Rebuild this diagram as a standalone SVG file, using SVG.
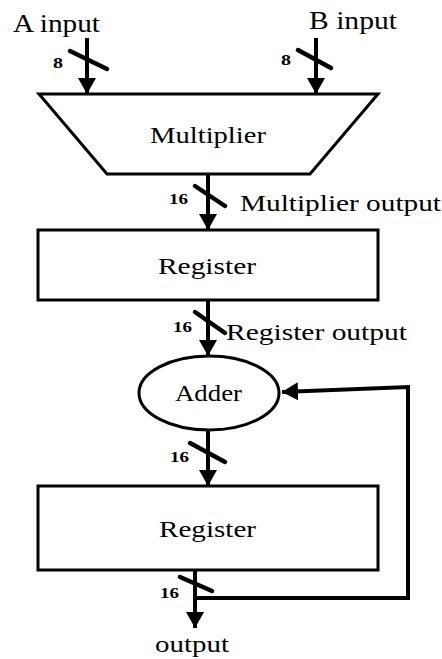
<svg xmlns="http://www.w3.org/2000/svg" width="442" height="659" viewBox="0 0 442 659">
<style>
.t{font-family:"Liberation Serif","Times New Roman",serif;font-size:24px;fill:#000}
.n{font-family:"Liberation Serif","Times New Roman",serif;font-size:15px;font-weight:bold;fill:#000}
.w{stroke:#000;stroke-width:4;fill:none}
.s{stroke:#000;stroke-width:4.5;stroke-linecap:round}
.b{fill:#fff;stroke:#000;stroke-width:3}
</style>
<defs>
<marker id="ah" viewBox="0 0 16 18" refX="16" refY="9" markerWidth="16" markerHeight="18" markerUnits="userSpaceOnUse" orient="auto">
<path d="M0,0 L16,9 L0,18 z" fill="#000"/>
</marker>
</defs>
<g id="connectors">
<line class="w" x1="87" y1="38" x2="87" y2="94" marker-end="url(#ah)"/>
<line class="w" x1="316" y1="38" x2="316" y2="94" marker-end="url(#ah)"/>
<line class="w" x1="208" y1="174" x2="208" y2="230" marker-end="url(#ah)"/>
<line class="w" x1="208" y1="300" x2="208" y2="356" marker-end="url(#ah)"/>
<line class="w" x1="208" y1="430" x2="208" y2="486" marker-end="url(#ah)"/>
<line class="w" x1="195" y1="570" x2="195" y2="628" marker-end="url(#ah)"/>
<polyline class="w" points="195,598 408,598 408,387 282,392" marker-end="url(#ah)"/>
<line class="s" x1="70" y1="51" x2="107" y2="69"/>
<line class="s" x1="298" y1="50" x2="331" y2="68"/>
<line class="s" x1="195" y1="186" x2="225" y2="206"/>
<line class="s" x1="195" y1="312" x2="225" y2="333"/>
<line class="s" x1="190" y1="443" x2="225" y2="462"/>
<line class="s" x1="180" y1="577" x2="212" y2="591"/>
<text class="n" x="53" y="68" textLength="10" lengthAdjust="spacingAndGlyphs">8</text>
<text class="n" x="281" y="65" textLength="10" lengthAdjust="spacingAndGlyphs">8</text>
<text class="n" x="169" y="204" textLength="19" lengthAdjust="spacingAndGlyphs">16</text>
<text class="n" x="173" y="332" textLength="19" lengthAdjust="spacingAndGlyphs">16</text>
<text class="n" x="170" y="462" textLength="19" lengthAdjust="spacingAndGlyphs">16</text>
<text class="n" x="160" y="598" textLength="19" lengthAdjust="spacingAndGlyphs">16</text>
<text class="t" x="240" y="211" textLength="201" lengthAdjust="spacingAndGlyphs">Multiplier output</text>
<text class="t" x="226" y="340" textLength="181" lengthAdjust="spacingAndGlyphs">Register output</text>
<text class="t" x="13" y="32" textLength="87" lengthAdjust="spacingAndGlyphs" style="font-size:25px">A input</text>
<text class="t" x="309" y="29" textLength="88" lengthAdjust="spacingAndGlyphs" style="font-size:25px">B input</text>
<text class="t" x="155" y="652" textLength="74" lengthAdjust="spacingAndGlyphs">output</text>
</g>
<g id="multiplier">
<polygon class="b" points="39,94 378,94 310,174 107,174" stroke-linejoin="miter"/>
<text class="t" x="150" y="143" textLength="116" lengthAdjust="spacingAndGlyphs" style="font-size:23px">Multiplier</text>
</g>
<g id="register1">
<rect class="b" x="38" y="230" width="340" height="70"/>
<text class="t" x="158" y="274" textLength="98" lengthAdjust="spacingAndGlyphs">Register</text>
</g>
<g id="adder">
<ellipse class="b" cx="209" cy="393" rx="70" ry="37"/>
<text class="t" x="175" y="401" textLength="67" lengthAdjust="spacingAndGlyphs">Adder</text>
</g>
<g id="register2">
<rect class="b" x="38" y="486" width="340" height="84"/>
<text class="t" x="159" y="537" textLength="97" lengthAdjust="spacingAndGlyphs">Register</text>
</g>
</svg>
